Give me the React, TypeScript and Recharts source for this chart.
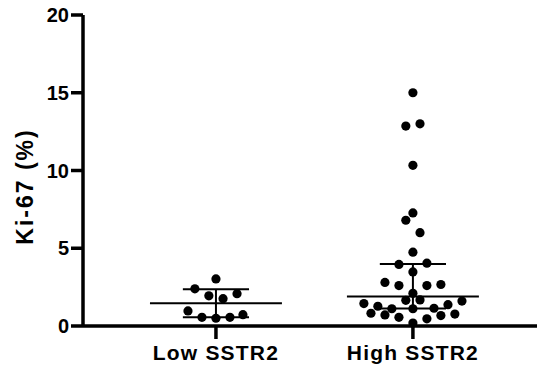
import React from 'react';
import { ScatterChart, Scatter, XAxis, YAxis, ReferenceLine, Label } from 'recharts';

const categories = ['Low SSTR2', 'High SSTR2'];
const yTicks = [0, 5, 10, 15, 20];

// Ki-67 (%) values and horizontal jitter (in category units) per group
const lowValues = [3.03, 2.39, 2.08, 1.94, 1.76, 0.97, 0.56, 0.5, 0.56, 0.73];
const lowJitter = [0, -0.107, 0.107, -0.036, 0.036, -0.142, -0.071, 0, 0.071, 0.137];

const highValues = [
  15.0, 13.0, 12.86, 10.33, 7.27, 6.8, 6.0, 4.75, 3.96, 4.04, 3.48, 2.8, 2.6, 2.6, 2.67, 2.1,
  1.65, 1.68, 1.6, 1.44, 1.27, 1.11, 1.11, 1.14, 1.37, 0.82, 0.71, 0.56, 0.46, 0.67, 0.77, 0.19,
];
const highJitter = [
  0, 0.036, -0.036, 0, 0, -0.036, 0.036, 0, -0.071, 0.071, 0, -0.142, -0.071, 0.071, 0.142, 0,
  -0.036, 0.036, 0.249, -0.249, -0.178, -0.107, 0, 0.107, 0.178, -0.213, -0.142, -0.071, 0.071, 0.142, 0.213, 0,
];

// summary: median with interquartile range
const medians = [1.46, 1.89];
const lowerQ = [0.56, 1.12];
const upperQ = [2.37, 3.98];

const lowData = lowValues.map((v, i) => ({ x: 0 + lowJitter[i], y: v }));
const highData = highValues.map((v, i) => ({ x: 1 + highJitter[i], y: v }));

const MED_HALF = 0.335;
const CAP_HALF = 0.168;

const FONT = '"Liberation Sans", Arial, Helvetica, sans-serif';

const Dot = (p: any) => <circle cx={p.cx} cy={p.cy} r={4.6} fill="#000" />;

const XTick = (p: any) => (
  <text
    x={p.x}
    y={p.y}
    dy={15}
    textAnchor="middle"
    fill="#000"
    fontSize={21}
    fontWeight="bold"
    fontFamily={FONT}
    letterSpacing={1.2}
  >
    {categories[Math.round(p.payload.value)]}
  </text>
);

const YTick = (p: any) => (
  <text
    x={p.x}
    y={p.y}
    dy={7}
    textAnchor="end"
    fill="#000"
    fontSize={20}
    fontWeight="bold"
    fontFamily={FONT}
  >
    {p.payload.value}
  </text>
);

export default function App() {
  const lines: any[] = [];
  categories.forEach((c, i) => {
    lines.push(
      <ReferenceLine key={`m${i}`} segment={[{ x: i - MED_HALF, y: medians[i] }, { x: i + MED_HALF, y: medians[i] }]} stroke="#000" strokeWidth={2} />
    );
    lines.push(
      <ReferenceLine key={`u${i}`} segment={[{ x: i - CAP_HALF, y: upperQ[i] }, { x: i + CAP_HALF, y: upperQ[i] }]} stroke="#000" strokeWidth={2} />
    );
    lines.push(
      <ReferenceLine key={`l${i}`} segment={[{ x: i - CAP_HALF, y: lowerQ[i] }, { x: i + CAP_HALF, y: lowerQ[i] }]} stroke="#000" strokeWidth={2} />
    );
    lines.push(
      <ReferenceLine key={`v${i}`} segment={[{ x: i, y: lowerQ[i] }, { x: i, y: upperQ[i] }]} stroke="#000" strokeWidth={2} />
    );
  });

  return (
    <div style={{ position: 'absolute', left: 0, top: 0, background: '#fff' }}>
      <ScatterChart width={537} height={367} margin={{ top: 15, right: 0, bottom: 0, left: 0 }}>
        <XAxis
          type="number"
          dataKey="x"
          domain={[-0.675, 1.63]}
          ticks={[0, 1]}
          height={41}
          axisLine={{ stroke: '#000', strokeWidth: 3.5 }}
          tickLine={{ stroke: '#000', strokeWidth: 3.5 }}
          tickSize={13}
          tickMargin={6}
          tick={<XTick />}
          allowDataOverflow
        />
        <YAxis
          type="number"
          dataKey="y"
          domain={[0, 20]}
          ticks={yTicks}
          width={83}
          axisLine={{ stroke: '#000', strokeWidth: 3.5 }}
          tickLine={{ stroke: '#000', strokeWidth: 3.5 }}
          tickSize={12}
          tickMargin={2}
          tick={<YTick />}
        >
          <Label
            content={() => (
              <text
                x={32.5}
                y={186.5}
                transform="rotate(-90 32.5 186.5)"
                textAnchor="middle"
                fill="#000"
                fontSize={23}
                fontWeight="bold"
                fontFamily={FONT}
                letterSpacing={2}
              >
                Ki-67 (%)
              </text>
            )}
          />
        </YAxis>
        {lines}
        <Scatter data={lowData} fill="#000" shape={Dot} isAnimationActive={false} />
        <Scatter data={highData} fill="#000" shape={Dot} isAnimationActive={false} />
      </ScatterChart>
    </div>
  );
}
